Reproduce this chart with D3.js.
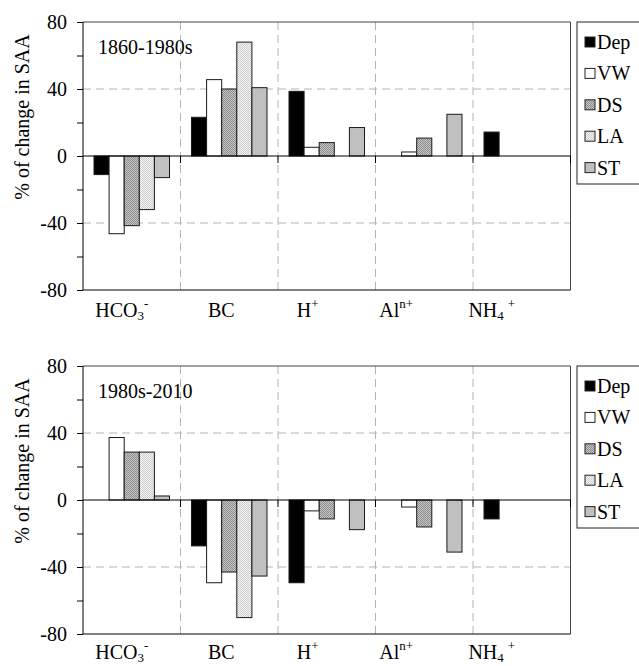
<!DOCTYPE html>
<html>
<head>
<meta charset="utf-8">
<script src="https://d3js.org/d3.v7.min.js"></script>
<style>
body { margin: 0; background: #fff; }
svg, svg text { font-family: "Liberation Serif", "Times New Roman", "DejaVu Serif", serif !important; }
text { fill: #000; }
</style>
</head>
<body>
<div id="chart"></div>
<script>
// categories + series names
var categories = ["HCO3-", "BC", "H+", "Aln+", "NH4+"];
var seriesNames = ["Dep", "VW", "DS", "LA", "ST"];

// 1860-1980s (% of change in SAA), null = no bar
var dep1 = [-11.1, 23.1, 38.6, null, 14.3];
var vw1  = [-46.4, 45.6, 5.2, 2.4, null];
var ds1  = [-41.6, 40.0, 8.0, 10.7, null];
var la1  = [-32.0, 68.0, null, null, null];
var st1  = [-12.9, 40.8, 17.0, 24.9, null];

// 1980s-2010
var dep2 = [null, -27.4, -49.4, null, -11.3];
var vw2  = [37.3, -49.4, -6.5, -4.2, null];
var ds2  = [28.6, -43.0, -11.3, -16.1, null];
var la2  = [28.6, -70.2, null, null, null];
var st2  = [2.4, -45.4, -17.7, -31.1, null];

var yTicks = [-80, -60, -40, -20, 0, 20, 40, 60, 80];

// label pieces (sub / superscripts)
var labelParts = [
    [["HCO", ""], ["3", "sub"], ["-", "sup"]],
    [["BC", ""]],
    [["H", ""], ["+", "sup"]],
    [["Al", ""], ["n+", "sup"]],
    [["NH", ""], ["4", "sub"], ["+", "sup2"]]
];
// labels sit a bit left of the group centre in the original
var labelShift = [-10, -8, -19, -28, -30];

var W = 639, H = 666;
var left = 83, right = 570.5, plotH = 268;
var serif = "'Liberation Serif', 'Times New Roman', serif";

var svg = d3.select("#chart").append("svg")
    .attr("width", W)
    .attr("height", H)
    .style("font-family", serif);

// fill patterns
var defs = svg.append("defs");
var pDS = defs.append("pattern").attr("id", "pDS")
    .attr("width", 2).attr("height", 2).attr("patternUnits", "userSpaceOnUse");
pDS.append("rect").attr("width", 2).attr("height", 2).attr("fill", "#c6c6c6");
pDS.append("rect").attr("width", 1).attr("height", 1).attr("fill", "#8c8c8c");
pDS.append("rect").attr("x", 1).attr("y", 1).attr("width", 1).attr("height", 1).attr("fill", "#8c8c8c");

var pLA = defs.append("pattern").attr("id", "pLA")
    .attr("width", 2).attr("height", 2).attr("patternUnits", "userSpaceOnUse");
pLA.append("rect").attr("width", 2).attr("height", 2).attr("fill", "#f2f2f2");
pLA.append("rect").attr("width", 1).attr("height", 1).attr("fill", "#cfcfcf");
pLA.append("rect").attr("x", 1).attr("y", 1).attr("width", 1).attr("height", 1).attr("fill", "#cfcfcf");

var fills = {"Dep": "#000", "VW": "#fff", "DS": "url(#pDS)", "LA": "url(#pLA)", "ST": "#c0c0c0"};

var xg = d3.scaleBand().domain(categories).range([left, right]).paddingInner(0).paddingOuter(0);
var xs = d3.scaleBand().domain(seriesNames)
    .range([11, xg.bandwidth() - 11]);

drawPanel(22, "1860-1980s", [dep1, vw1, ds1, la1, st1], 27);
drawPanel(366, "1980s-2010", [dep2, vw2, ds2, la2, st2], 25);

function drawPanel(top, title, seriesVals, labelGap) {
    var g = svg.append("g");
    var y = d3.scaleLinear().domain([-80, 80]).range([top + plotH, top]);

    // gridlines
    g.selectAll(".hgrid")
        .data([40, -40])
        .enter().append("line")
        .attr("x1", left).attr("x2", right)
        .attr("y1", function (d) { return y(d); })
        .attr("y2", function (d) { return y(d); })
        .attr("stroke", "#b4b4b4")
        .attr("stroke-dasharray", "8,5");

    g.selectAll(".vgrid")
        .data(categories.slice(1))
        .enter().append("line")
        .attr("x1", function (d) { return xg(d); })
        .attr("x2", function (d) { return xg(d); })
        .attr("y1", top).attr("y2", top + plotH)
        .attr("stroke", "#b4b4b4")
        .attr("stroke-dasharray", "8,5");

    // border top / right
    g.append("path")
        .attr("d", "M" + left + "," + top + "H" + right + "V" + (top + plotH))
        .attr("fill", "none")
        .attr("stroke", "#444");
    g.append("line")
        .attr("x1", left).attr("x2", right)
        .attr("y1", top + plotH).attr("y2", top + plotH)
        .attr("stroke", "#000");

    // bars
    seriesVals.forEach(function (vals, si) {
        var name = seriesNames[si];
        var rows = vals.map(function (v, ci) { return {cat: categories[ci], v: v}; })
            .filter(function (d) { return d.v !== null; });
        g.selectAll(".bar-" + name)
            .data(rows)
            .enter().append("rect")
            .attr("x", function (d) { return xg(d.cat) + xs(name); })
            .attr("width", xs.bandwidth())
            .attr("y", function (d) { return y(Math.max(0, d.v)); })
            .attr("height", function (d) { return Math.abs(y(d.v) - y(0)); })
            .attr("fill", fills[name])
            .attr("stroke", "#1a1a1a")
            .attr("stroke-width", 1);
    });

    // zero line + category ticks
    g.append("line")
        .attr("x1", left).attr("x2", right)
        .attr("y1", y(0)).attr("y2", y(0))
        .attr("stroke", "#000");
    g.selectAll(".xtick")
        .data(categories.slice(1).map(function (c) { return xg(c); }).concat([right]))
        .enter().append("line")
        .attr("x1", function (d) { return d; })
        .attr("x2", function (d) { return d; })
        .attr("y1", y(0)).attr("y2", y(0) + 7)
        .attr("stroke", "#000");

    // y axis
    var yAxis = g.append("g")
        .attr("transform", "translate(" + left + ",0)")
        .call(d3.axisLeft(y)
            .tickValues(yTicks)
            .tickSize(6)
            .tickPadding(10)
            .tickFormat(function (d) { return d % 40 === 0 ? String(d) : ""; }));
    yAxis.attr("font-family", null).attr("font-size", null);
    yAxis.select(".domain").attr("stroke", "#000").attr("d", "M0," + (top + plotH) + "V" + top);
    yAxis.selectAll(".tick line").attr("stroke", "#000");
    yAxis.selectAll("text")
        .style("font-family", serif)
        .style("font-size", "20px")
        .attr("fill", "#000");

    // y label
    g.append("text")
        .attr("transform", "translate(29," + (top + 95) + ") rotate(-90)")
        .attr("text-anchor", "middle")
        .style("font-family", serif)
        .style("font-size", "20px")
        .text("% of change in SAA");

    // panel title
    g.append("text")
        .attr("x", 98)
        .attr("y", top + 32)
        .style("font-family", serif)
        .style("font-size", "20px")
        .text(title);

    // category labels
    categories.forEach(function (c, i) {
        var t = g.append("text")
            .attr("x", xg(c) + xg.bandwidth() / 2 + labelShift[i])
            .attr("y", top + plotH + labelGap)
            .attr("text-anchor", "middle")
            .style("font-family", serif)
            .style("font-size", "20px");
        var shift = 0;
        labelParts[i].forEach(function (p) {
            var ts = t.append("tspan").text(p[0]);
            if (p[1] === "sub") {
                ts.attr("dy", 3 - shift).style("font-size", "13px");
                shift = 3;
            } else if (p[1] === "sup" || p[1] === "sup2") {
                ts.attr("dy", -9 - shift).style("font-size", "13px");
                if (p[1] === "sup2") ts.attr("dx", 4);
                shift = -9;
            } else {
                ts.attr("dy", -shift);
                shift = 0;
            }
        });
    });

    // legend
    var lg = g.append("g");
    lg.append("rect")
        .attr("x", 577).attr("y", top)
        .attr("width", 80).attr("height", 162)
        .attr("fill", "#fff")
        .attr("stroke", "#222");
    seriesNames.forEach(function (name, i) {
        var cy = top + 20 + i * 31.4;
        lg.append("rect")
            .attr("x", 585).attr("y", cy - 5)
            .attr("width", 10).attr("height", 10)
            .attr("fill", fills[name])
            .attr("stroke", "#222");
        lg.append("text")
            .attr("x", 597).attr("y", cy + 7)
            .style("font-family", serif)
            .style("font-size", "20px")
            .text(name);
    });
}
</script>
</body>
</html>
